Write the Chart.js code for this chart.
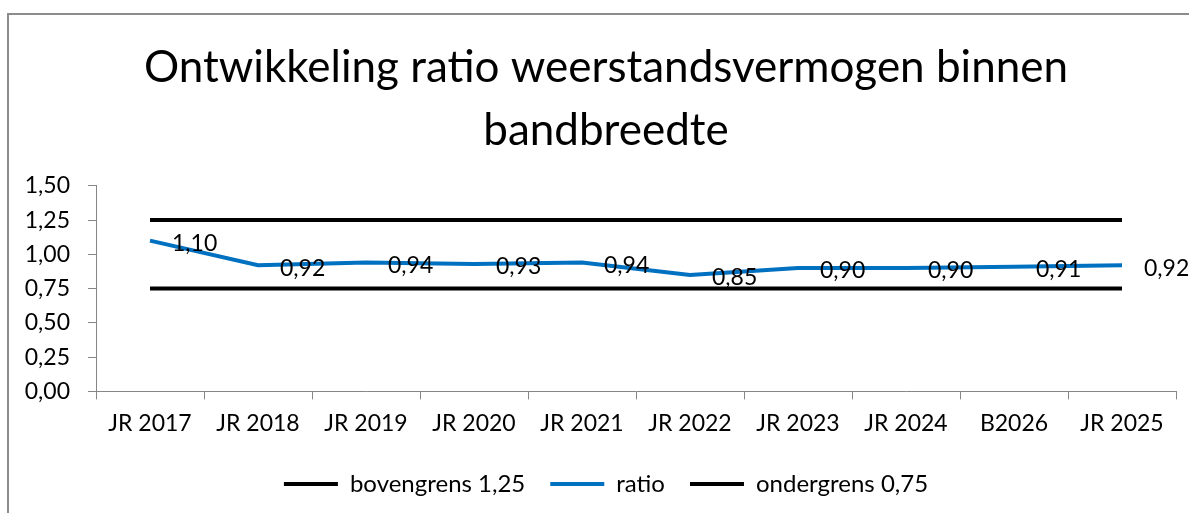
<!DOCTYPE html>
<html>
<head>
<meta charset="utf-8">
<script src="https://cdn.jsdelivr.net/npm/chart.js@4.4.1/dist/chart.umd.min.js"></script>
<style>
  html, body { margin: 0; padding: 0; background: #fff; }
  #wrap { position: relative; width: 1189px; height: 513px; overflow: hidden; }
  #frame { position: absolute; left: 7px; top: 13px; width: 1300px; height: 600px; border-left: 2px solid #8c8c8c; border-top: 2px solid #8c8c8c; box-sizing: border-box; }
  canvas { position: absolute; left: 0; top: 0; }
</style>
</head>
<body>
<div id="wrap">
  <div id="frame"></div>
  <canvas id="chart" width="1189" height="513"></canvas>
</div>
<script>
// chart data
const categories = ['JR 2017', 'JR 2018', 'JR 2019', 'JR 2020', 'JR 2021', 'JR 2022', 'JR 2023', 'JR 2024', 'B2026', 'JR 2025'];
const upperBound = [1.25, 1.25, 1.25, 1.25, 1.25, 1.25, 1.25, 1.25, 1.25, 1.25];
const ratio = [1.10, 0.92, 0.94, 0.93, 0.94, 0.85, 0.90, 0.90, 0.91, 0.92];
const lowerBound = [0.75, 0.75, 0.75, 0.75, 0.75, 0.75, 0.75, 0.75, 0.75, 0.75];
const yTicks = [0, 0.25, 0.5, 0.75, 1.0, 1.25, 1.5];

const FONT = 'Lato';
const fmt = v => v.toFixed(2).replace('.', ',');

// data labels to the right of the ratio points
const ratioLabels = {
  id: 'ratioLabels',
  afterDatasetsDraw(chart) {
    const meta = chart.getDatasetMeta(1);
    const c = chart.ctx;
    c.save();
    c.font = `23px ${FONT}`;
    c.fillStyle = '#000';
    c.textAlign = 'left';
    c.textBaseline = 'middle';
    meta.data.forEach((pt, i) => {
      c.fillText(fmt(ratio[i]), pt.x + 22, pt.y + 3);
    });
    c.restore();
  }
};

// title and legend sit a bit right of the canvas centre in the original
const shiftBlocks = {
  id: 'shiftBlocks',
  afterLayout(chart) {
    if (chart.titleBlock) chart.titleBlock.left += 26;
    if (chart.legend) chart.legend.left += 26;
  }
};

new Chart(document.getElementById('chart'), {
  type: 'line',
  data: {
    labels: categories,
    datasets: [
      { label: 'bovengrens 1,25', data: upperBound, borderColor: '#000', backgroundColor: '#000', borderWidth: 4 },
      { label: 'ratio', data: ratio, borderColor: '#0070C0', backgroundColor: '#0070C0', borderWidth: 4 },
      { label: 'ondergrens 0,75', data: lowerBound, borderColor: '#000', backgroundColor: '#000', borderWidth: 4 }
    ]
  },
  options: {
    responsive: false,
    animation: false,
    elements: { point: { radius: 0 }, line: { tension: 0 } },
    layout: { padding: { left: 10, right: 13, top: 0, bottom: 7 } },
    plugins: {
      title: {
        display: true,
        text: ['Ontwikkeling ratio weerstandsvermogen binnen', 'bandbreedte'],
        color: '#000',
        font: { family: FONT, size: 44, weight: 'normal', lineHeight: 1.43 },
        padding: { top: 36, bottom: 24 }
      },
      legend: {
        position: 'bottom',
        labels: {
          color: '#000',
          font: { family: FONT, size: 24 },
          boxWidth: 54,
          boxHeight: 4,
          padding: 25,
          generateLabels(chart) {
            return Chart.defaults.plugins.legend.labels.generateLabels(chart).map(it => {
              it.lineWidth = 0;
              it.fillStyle = it.strokeStyle;
              return it;
            });
          }
        }
      },
      tooltip: { enabled: false }
    },
    scales: {
      x: {
        offset: true,
        grid: { offset: true, drawOnChartArea: false, tickLength: 8, color: '#868686' },
        border: { color: '#868686', width: 1 },
        ticks: { color: '#000', font: { family: FONT, size: 23 }, padding: 10, maxRotation: 0, autoSkip: false }
      },
      y: {
        min: 0,
        max: 1.5,
        afterFit(scale) { scale.width = 86; },
        afterBuildTicks(scale) { scale.ticks = yTicks.map(v => ({ value: v })); },
        grid: { drawOnChartArea: false, tickLength: 8, color: '#868686' },
        border: { color: '#868686', width: 1 },
        ticks: { color: '#000', font: { family: FONT, size: 23 }, padding: 18, callback: v => fmt(v) }
      }
    }
  },
  plugins: [ratioLabels, shiftBlocks]
});
</script>
</body>
</html>
